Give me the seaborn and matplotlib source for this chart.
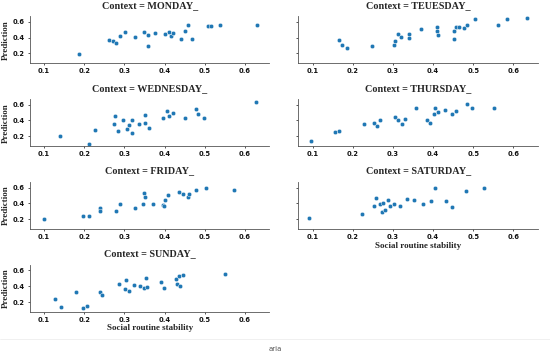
import numpy as np
import pandas as pd
import matplotlib
matplotlib.use("Agg")
import matplotlib.pyplot as plt
import seaborn as sns

days = ["MONDAY_", "TEUESDAY_", "WEDNESDAY_", "THURSDAY_", "FRIDAY_", "SATURDAY_", "SUNDAY_"]

monday_x = [0.186, 0.261, 0.271, 0.279, 0.289, 0.302, 0.326, 0.350, 0.358, 0.358, 0.375, 0.402, 0.412, 0.417, 0.420, 0.441, 0.451, 0.458, 0.468, 0.508, 0.516, 0.537, 0.631]
monday_y = [0.188, 0.368, 0.360, 0.328, 0.420, 0.468, 0.404, 0.472, 0.432, 0.292, 0.460, 0.440, 0.476, 0.416, 0.464, 0.384, 0.480, 0.556, 0.384, 0.540, 0.552, 0.560, 0.556]

tuesday_x = [0.167, 0.173, 0.186, 0.247, 0.303, 0.306, 0.314, 0.321, 0.339, 0.340, 0.369, 0.410, 0.410, 0.412, 0.451, 0.451, 0.456, 0.465, 0.477, 0.485, 0.505, 0.561, 0.585, 0.634]
tuesday_y = [0.364, 0.312, 0.268, 0.296, 0.312, 0.356, 0.440, 0.412, 0.400, 0.444, 0.508, 0.528, 0.480, 0.428, 0.488, 0.388, 0.528, 0.528, 0.520, 0.564, 0.636, 0.564, 0.632, 0.644]

wednesday_x = [0.140, 0.212, 0.226, 0.274, 0.277, 0.284, 0.296, 0.307, 0.312, 0.318, 0.320, 0.337, 0.351, 0.352, 0.361, 0.397, 0.407, 0.410, 0.421, 0.452, 0.477, 0.482, 0.497, 0.627]
wednesday_y = [0.208, 0.100, 0.280, 0.356, 0.452, 0.272, 0.408, 0.288, 0.344, 0.404, 0.248, 0.360, 0.372, 0.468, 0.300, 0.436, 0.516, 0.452, 0.496, 0.428, 0.540, 0.484, 0.436, 0.632]

thursday_x = [0.096, 0.156, 0.166, 0.227, 0.252, 0.261, 0.268, 0.306, 0.312, 0.322, 0.329, 0.357, 0.384, 0.393, 0.403, 0.406, 0.412, 0.431, 0.447, 0.458, 0.484, 0.498, 0.553]
thursday_y = [0.136, 0.260, 0.264, 0.352, 0.368, 0.332, 0.400, 0.444, 0.408, 0.360, 0.416, 0.556, 0.400, 0.368, 0.476, 0.556, 0.508, 0.536, 0.484, 0.524, 0.604, 0.560, 0.556]

friday_x = [0.100, 0.198, 0.213, 0.240, 0.240, 0.278, 0.288, 0.326, 0.347, 0.350, 0.351, 0.371, 0.395, 0.398, 0.401, 0.409, 0.435, 0.447, 0.459, 0.462, 0.479, 0.503, 0.572]
friday_y = [0.203, 0.243, 0.243, 0.346, 0.302, 0.306, 0.398, 0.342, 0.398, 0.525, 0.485, 0.398, 0.380, 0.370, 0.437, 0.505, 0.548, 0.521, 0.485, 0.521, 0.568, 0.588, 0.572]

saturday_x = [0.092, 0.224, 0.252, 0.257, 0.268, 0.272, 0.276, 0.281, 0.287, 0.293, 0.303, 0.318, 0.336, 0.352, 0.376, 0.394, 0.404, 0.432, 0.448, 0.481, 0.527]
saturday_y = [0.219, 0.271, 0.370, 0.473, 0.398, 0.290, 0.406, 0.318, 0.445, 0.370, 0.398, 0.366, 0.461, 0.437, 0.390, 0.429, 0.596, 0.429, 0.350, 0.556, 0.596]

sunday_x = [0.126, 0.141, 0.179, 0.198, 0.207, 0.238, 0.245, 0.287, 0.302, 0.305, 0.311, 0.325, 0.340, 0.349, 0.354, 0.356, 0.390, 0.398, 0.428, 0.430, 0.436, 0.439, 0.445, 0.550]
sunday_y = [0.239, 0.132, 0.330, 0.128, 0.152, 0.326, 0.290, 0.429, 0.362, 0.485, 0.338, 0.417, 0.406, 0.378, 0.505, 0.394, 0.457, 0.378, 0.489, 0.433, 0.525, 0.406, 0.544, 0.560]

xs = [monday_x, tuesday_x, wednesday_x, thursday_x, friday_x, saturday_x, sunday_x]
ys = [monday_y, tuesday_y, wednesday_y, thursday_y, friday_y, saturday_y, sunday_y]

rows = []
for d, xv, yv in zip(days, xs, ys):
    for a, b in zip(xv, yv):
        rows.append({"Context": d, "Social routine stability": a, "Prediction": b})
df = pd.DataFrame(rows)

sns.set_theme(style="ticks")
plt.rcParams["font.family"] = ["DejaVu Sans"]
plt.rcParams["font.weight"] = "bold"

g = sns.relplot(data=df, x="Social routine stability", y="Prediction",
                col="Context", col_wrap=2, col_order=days, kind="scatter",
                s=10, color="#1f77b4", edgecolor="white", linewidth=0.3,
                height=1.6, aspect=1.5, facet_kws=dict(sharex=True, sharey=True))
fig = g.figure
fig.set_size_inches(5.5, 3.58)
fig.set_dpi(100)

g.set_titles("Context = {col_name}")
for ax in g.axes.flat:
    ax.tick_params(axis="x", labelbottom=True)
    ax.title.set_fontsize(7.3)
    ax.title.set_fontfamily("Liberation Serif")
    ax.title.set_fontweight("bold")
    ax.title.set_y(0.98)
    ax.xaxis.label.set_fontsize(6.5)
    ax.xaxis.label.set_fontfamily("Liberation Serif")
    ax.xaxis.label.set_fontweight("bold")
    ax.yaxis.label.set_fontsize(6.5)
    ax.yaxis.label.set_fontfamily("Liberation Serif")
    ax.yaxis.label.set_fontweight("bold")
    ax.xaxis.labelpad = 1
    ax.yaxis.labelpad = 2
    ax.set_xticks([0.1, 0.2, 0.3, 0.4, 0.5, 0.6])
    ax.set_yticks([0.2, 0.4, 0.6])
    ax.tick_params(labelsize=4.9, length=1.5, width=0.5, pad=2, colors="#111111")
    for lab in ax.get_xticklabels() + ax.get_yticklabels():
        lab.set_fontweight("bold")
    for sp in ax.spines.values():
        sp.set_linewidth(0.6)
        sp.set_color("#555555")

fig.subplots_adjust(left=0.0545, right=0.978, top=0.955, bottom=0.128, wspace=0.121, hspace=0.75)

fig.add_artist(plt.Line2D([0.0, 1.0], [1 - 339 / 358, 1 - 339 / 358], transform=fig.transFigure,
                          color="#eeeeee", linewidth=0.6))
fig.text(0.5, 1 - 349 / 358, "aria", ha="center", va="center", fontsize=5, color="#555555",
         fontweight="normal")

fig.savefig("out.png", dpi=100)
